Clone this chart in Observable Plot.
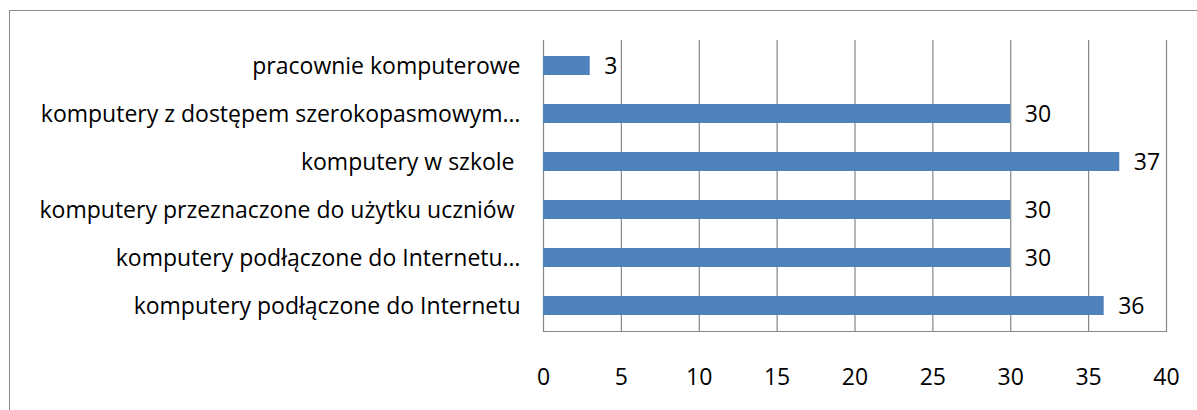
<!DOCTYPE html>
<html><head><meta charset="utf-8">
<script src="https://cdn.jsdelivr.net/npm/d3@7"></script>
<script src="https://cdn.jsdelivr.net/npm/@observablehq/plot@0.6"></script>
<style>
html,body{margin:0;padding:0;background:#fff;overflow:hidden;}
#wrap{position:relative;width:1197px;height:410px;}
#border{position:absolute;left:9px;top:10px;width:2000px;height:1000px;border:1px solid #8c8c8c;}
#chart{position:absolute;left:0;top:0;}
</style>
</head><body>
<div id="wrap"><div id="border"></div><div id="chart"></div></div>
<script>
const categories = [
  "pracownie komputerowe",
  "komputery z dostępem szerokopasmowym…",
  "komputery w szkole ",
  "komputery przeznaczone do użytku uczniów ",
  "komputery podłączone do Internetu…",
  "komputery podłączone do Internetu"
];
const values = [3, 30, 37, 30, 30, 36];
const xTicks = [0, 5, 10, 15, 20, 25, 30, 35, 40];

const data = categories.map((c, i) => ({category: c, value: values[i]}));
const font = "'Open Sans', sans-serif";
const fs = 23;

const chart = Plot.plot({
  width: 1197,
  height: 410,
  marginLeft: 543,
  marginRight: 31,
  marginTop: 40,
  marginBottom: 79,
  style: {fontFamily: font, fontSize: fs + "px", color: "#000", background: "transparent"},
  x: {domain: [0, 40], ticks: xTicks, label: null},
  y: {domain: categories, label: null, paddingInner: 0.61, paddingOuter: 0.305},
  marks: [
    Plot.gridX(xTicks, {stroke: "#868686", strokeOpacity: 1, strokeWidth: 1.2}),
    Plot.frame({anchor: "bottom", stroke: "#868686", strokeWidth: 1.2}),
    Plot.barX(data, {x: "value", y: "category", fill: "#4f81bd"}),
    Plot.text(data, {x: "value", y: "category", text: d => String(d.value), textAnchor: "start", dx: 14, dy: 1, fontSize: fs, fill: "#000"}),
    Plot.axisX(xTicks, {tickSize: 0, tickPadding: 37, fontSize: fs, label: null}),
    Plot.axisY({tickSize: 0, tickPadding: 23, dy: 1, fontSize: fs, label: null})
  ]
});
document.getElementById("chart").appendChild(chart);
</script>
</body></html>
